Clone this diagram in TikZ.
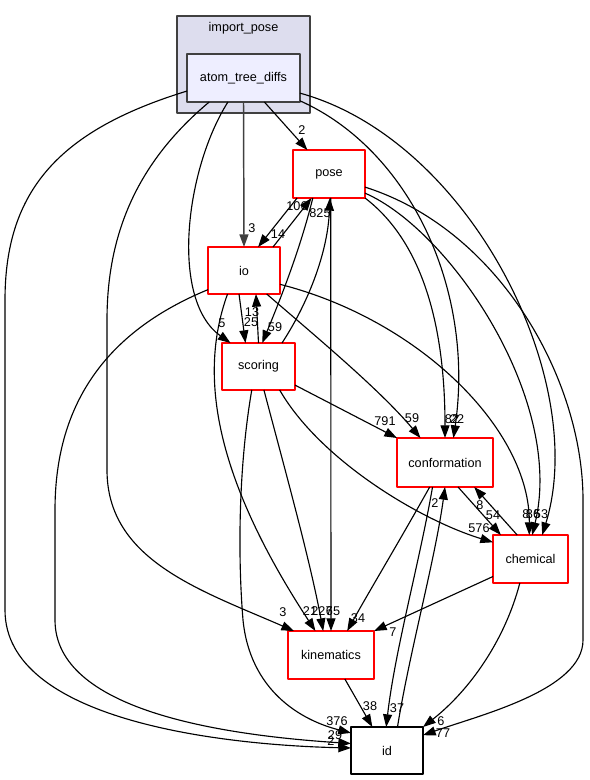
\documentclass[tikz,border=0pt]{standalone}
\usepackage{fontspec}
\setmainfont{Liberation Sans}
\usetikzlibrary{arrows.meta}
\definecolor{clusterfill}{HTML}{DDDDEE}
\definecolor{atdfill}{HTML}{EEEEFF}
\definecolor{darkline}{HTML}{404040}
\begin{document}
\begin{tikzpicture}[x=0.75pt,y=-0.75pt,line join=round,>={Triangle[length=9.5pt,width=6.75pt]}]
            \tikzset{every node/.style={font=\fontsize{9.5}{11}\selectfont},
                dirbox/.style={draw=red,fill=white,line width=0.85pt,inner sep=0pt,outer sep=0pt,minimum width=54pt,minimum height=36pt},
                num/.style={inner sep=0pt},
                dep/.style={->,line width=0.85pt}}
            \useasboundingbox (0,0) rectangle (589,780);
            % the import_pose cluster
            \draw[fill=clusterfill,draw=darkline,line width=0.9pt] (177,16) rectangle (310,113);
            \node (imp) at (243.5,28) {import\_pose};
            \node[dirbox,draw=darkline,fill=atdfill,minimum width=84.75pt] (atd) at (243.5,78) {atom\_tree\_diffs};
            % directories
            \node[dirbox] (pose) at (329,174) {pose};
            \node[dirbox,minimum height=35.25pt] (io) at (244,270.5) {io};
            \node[dirbox,minimum width=54.75pt,minimum height=35.25pt] (scoring) at (258.5,366.5) {scoring};
            \node[dirbox,minimum width=72pt,minimum height=36.75pt] (conformation) at (445,462.5) {conformation};
            \node[dirbox,minimum width=56.25pt] (chemical) at (530.5,559) {chemical};
            \node[dirbox,minimum width=64.5pt] (kinematics) at (331,655) {kinematics};
            \node[dirbox,draw=black,minimum height=35.25pt] (id) at (387,750.5) {id};
            % from atom_tree_diffs
            \draw[dep] (atd.311.9) -- (pose.132.5);
            \draw[dep,draw=darkline,line width=1.1pt] (atd.south) -- (io.north);
            \draw[dep] (atd.237.1) .. controls (185,170) and (170,300) .. (scoring.140.5);
            \draw[dep] (atd.215.6) .. controls (140,160) and (107,230) .. (107,320) -- (107,470) .. controls (107,560) and (200,590) .. (kinematics.147.7);
            \draw[dep] (atd.193.9) .. controls (60,130) and (5,190) .. (5,300) -- (5,610) .. controls (5,720) and (220,745) .. (id.176);
            \draw[dep] (atd.338.7) .. controls (410,150) and (475,290) .. (conformation.71.9);
            \draw[dep] (atd.345.1) .. controls (470,140) and (590,380) .. (chemical.64.4);
            % from pose
            \draw[dep] (pose.217.7) -- (io.59.2);
            \draw[dep] (pose.236.3) .. controls (300,250) and (280,300) .. (scoring.81.5);
            \draw[dep] (pose.274.8) -- (kinematics.north);
            \draw[dep] (pose.south east) .. controls (420,240) and (445,320) .. (conformation.north);
            \draw[dep] (pose.332.2) .. controls (450,230) and (565,400) .. (chemical.86.2);
            \draw[dep] (pose.340.1) .. controls (500,230) and (583,380) .. (583,500) -- (583,640) .. controls (583,690) and (480,715) .. (id.23.3);
            % from io
            \draw[dep] (io.39) -- (pose.234.7);
            \draw[dep] (io.258) -- (scoring.119.9);
            \draw[dep] (io.235.8) .. controls (200,370) and (210,470) .. (kinematics.123.7);
            \draw[dep] (io.314.4) .. controls (320,340) and (380,390) .. (conformation.135.6);
            \draw[dep] (io.339.4) .. controls (420,320) and (530,430) .. (chemical.93.8);
            \draw[dep] (io.208.4) .. controls (110,330) and (55,400) .. (55,510) -- (55,620) .. controls (55,710) and (220,735) .. (id.169.8);
            % from scoring
            \draw[dep] (scoring.north) -- (io.297);
            \draw[dep] (scoring.45) .. controls (310,300) and (328,250) .. (pose.272.4);
            \draw[dep] (scoring.283.2) .. controls (285,470) and (310,560) .. (kinematics.108.4);
            \draw[dep] (scoring.333.1) -- (conformation.north west);
            \draw[dep] (scoring.312.5) .. controls (320,460) and (420,520) .. (chemical.156.9);
            \draw[dep] (scoring.254.5) .. controls (238,470) and (238,560) .. (243,620) .. controls (250,690) and (300,720) .. (id.154.1);
            % from conformation, chemical, kinematics, id
            \draw[dep] (conformation.238.5) .. controls (400,540) and (370,590) .. (kinematics.56.3);
            \draw[dep] (conformation.298) -- (chemical.141.8);
            \draw[dep] (conformation.243.9) .. controls (420,560) and (395,650) .. (id.92);
            \draw[dep] (chemical.119.4) -- (conformation.320.8);
            \draw[dep] (chemical.205.6) -- (kinematics.north east);
            \draw[dep] (chemical.246.4) .. controls (505,640) and (470,690) .. (id.north east);
            \draw[dep] (kinematics.300.3) -- (id.122.5);
            \draw[dep] (id.66.9) .. controls (410,650) and (435,560) .. (conformation.south);
            % edge counts
            \node[num] (n-atd-pose) at (302,130) {2};
            \node[num] (n-atd-io) at (252,228) {3};
            \node[num] (n-atd-sc) at (222,323) {5};
            \node[num] (n-atd-kin) at (283,612) {3};
            \node[num] (n-atd-id) at (331,741) {2};
            \node[num] (n-atd-conf) at (457,419) {22};
            \node[num] (n-atd-chem) at (541,514) {53};
            \node[num] (n-pose-io) at (278,234) {14};
            \node[num] (n-pose-sc) at (275,327) {59};
            \node[num] (n-pose-kin) at (333,611) {65};
            \node[num] (n-pose-conf) at (452,419) {82};
            \node[num] (n-pose-chem) at (533,514) {86};
            \node[num] (n-pose-id) at (443,733) {77};
            \node[num] (n-io-pose) at (297,206) {106};
            \node[num] (n-io-sc) at (251,322) {25};
            \node[num] (n-io-kin) at (310,611) {21};
            \node[num] (n-io-conf) at (412,418) {59};
            \node[num] (n-io-chem) at (526,514) {8};
            \node[num] (n-io-id) at (335,735) {29};
            \node[num] (n-sc-io) at (252,312) {13};
            \node[num] (n-sc-pose) at (320,213) {825};
            \node[num] (n-sc-kin) at (322,611) {227};
            \node[num] (n-sc-conf) at (385,421) {791};
            \node[num] (n-sc-chem) at (479,528) {576};
            \node[num] (n-sc-id) at (337,721) {376};
            \node[num] (n-conf-kin) at (358,618) {34};
            \node[num] (n-conf-chem) at (493,515) {54};
            \node[num] (n-conf-id) at (397,708) {37};
            \node[num] (n-chem-conf) at (480,505) {8};
            \node[num] (n-chem-kin) at (393,632) {7};
            \node[num] (n-chem-id) at (441,721) {6};
            \node[num] (n-kin-id) at (370,706) {38};
            \node[num] (n-id-conf) at (435,503) {2};
        \end{tikzpicture}
\end{document}
